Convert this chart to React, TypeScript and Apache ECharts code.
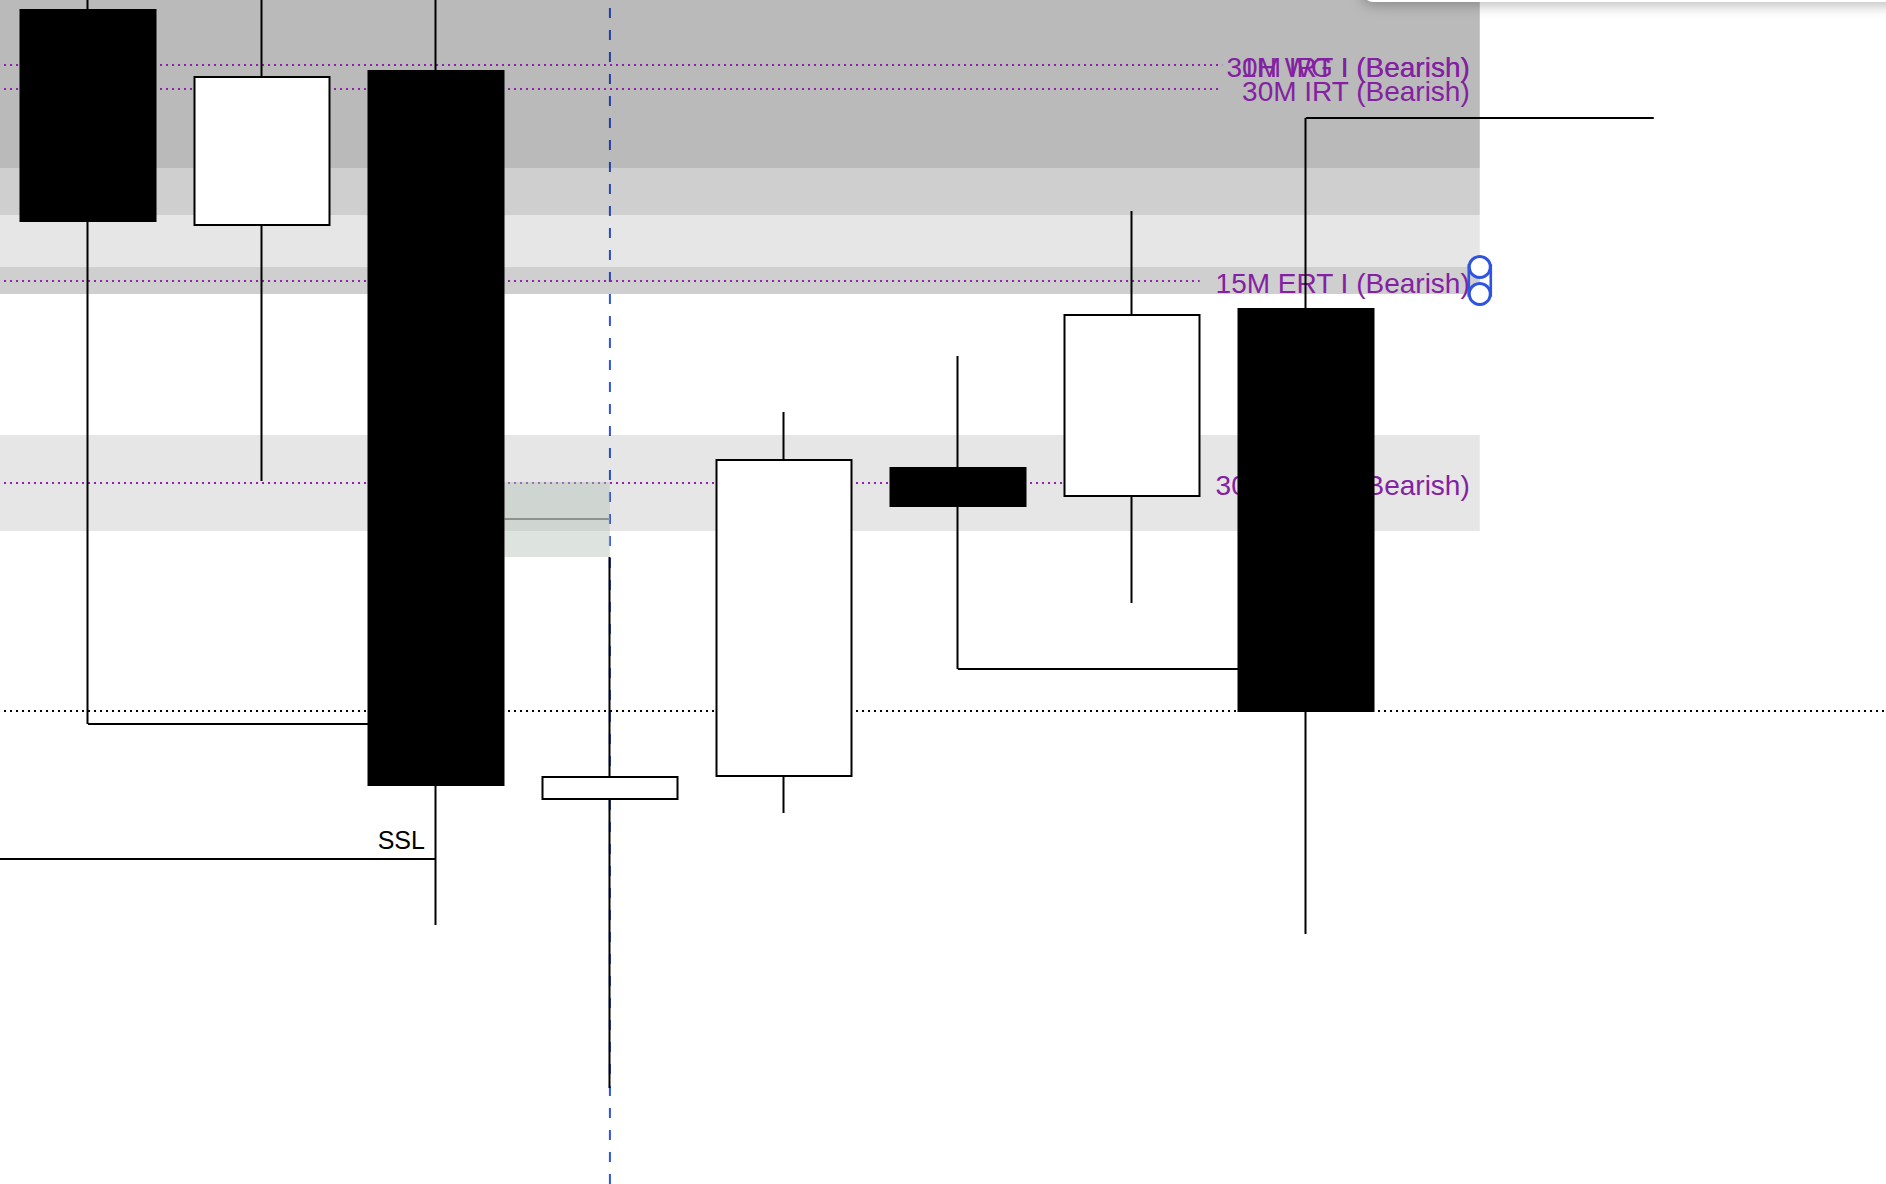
import React, { useEffect, useRef } from "react";
import * as echarts from "echarts";

// ---- Candles (x = bar index) ----
const candleIndex = [0, 1, 2, 3, 4, 5, 6, 7];
const opens = [21247.5, 21193.75, 21232.25, 21050.25, 21056, 21133, 21126, 21172.75];
const closes = [21194.75, 21230.75, 21053.75, 21055.75, 21135, 21123.5, 21171.25, 21072.25];
const lows = [21069, 21129.75, 21018.75, 20978, 21046.75, 21082.75, 21099.25, 21016.5];
const highs = [21262, 21258, 21265, 21110.75, 21147, 21161, 21197.25, 21220.5];

// ---- Dotted purple levels ----
const levelLabels = [
  "30M IRT I (Bearish)",
  "1H WG I (Bearish)",
  "30M IRT (Bearish)",
  "15M ERT I (Bearish)",
  "30M ERT I (Bearish)",
];
const levelPrices = [21233.75, 21233.75, 21227.75, 21179.75, 21129.25];
const levelStarts = [-1, -1, -1, -1, -1];
const levelEnds = [6.42, 6.52, 6.5, 6.39, 6.39];
const levelLabelX = 8;

// ---- Grey zones ----
const zoneStarts = [-1, -1, -1, -1, -1];
const zoneEnds = [8, 8, 8, 8, 8];
const zoneTops = [21290, 21290, 21290, 21183.25, 21141.25];
const zoneBottoms = [21176.5, 21196.25, 21208, 21176.5, 21117.25];

// ---- Selection handles of the 15M zone ----
const handleX = 8;
const handlePrices = [21183.25, 21176.5];

// ---- Gap box with its mid line ----
const gapStarts = [2.394];
const gapEnds = [3];
const gapTops = [21129.5];
const gapBottoms = [21110.75];
const gapMids = [21120.25];

// ---- Solid liquidity lines ----
const liqStarts = [0, 5, 7, -1];
const liqEnds = [2, 7, 9, 2];
const liqPrices = [21069, 21082.75, 21220.5, 21035.25];
const sslLabel = "SSL";
const sslIndex = 3;

// ---- Dotted close line and cursor ----
const closeLinePrice = 21072.25;
const cursorX = 3;

const Y_MIN = 20954;
const Y_MAX = 21250;
const X_MIN = -0.5058;
const X_MAX = 10.335;

const PURPLE = "#8f22ab";
const PURPLE_TEXT = "#8421a2";
const BLUE = "#2f55e0";
const FONT = "'Liberation Sans', Arial, sans-serif";

export default function App() {
  const ref = useRef<HTMLDivElement>(null);

  useEffect(() => {
    if (!ref.current) return;
    const chart = echarts.init(ref.current, null, { renderer: "svg" });

    const rectRender = (fillColor: string) => (params: any, api: any) => {
      const p0 = api.coord([api.value(0), api.value(2)]);
      const p1 = api.coord([api.value(1), api.value(3)]);
      return {
        type: "rect",
        shape: { x: p0[0], y: p0[1], width: p1[0] - p0[0], height: p1[1] - p0[1] },
        style: { fill: fillColor },
      };
    };

    const series: any[] = [];

    // cursor
    series.push({
      type: "line",
      z: 1,
      silent: true,
      symbol: "none",
      data: [
        [cursorX, Y_MIN],
        [cursorX, Y_MAX],
      ],
      lineStyle: { color: BLUE, width: 2, type: [10, 12] },
    });

    // zones
    series.push({
      type: "custom",
      z: 2,
      silent: true,
      encode: { x: [0, 1], y: [2, 3] },
      data: zoneStarts.map((s, i) => [s, zoneEnds[i], zoneTops[i], zoneBottoms[i]]),
      renderItem: rectRender("rgba(0,0,0,0.098)"),
    });

    // level lines
    levelPrices.forEach((p, i) => {
      series.push({
        type: "line",
        z: 3,
        silent: true,
        symbol: "none",
        data: [
          [levelStarts[i], p],
          [levelEnds[i], p],
        ],
        lineStyle: { color: PURPLE, width: 2, type: [2, 4] },
      });
    });

    // level labels
    series.push({
      type: "scatter",
      z: 3,
      silent: true,
      symbolSize: 0,
      itemStyle: { color: "rgba(0,0,0,0)", opacity: 1 },
      data: levelPrices.map((p, i) => ({ value: [levelLabelX, p], name: levelLabels[i] })),
      label: {
        show: true,
        position: "left",
        distance: 10,
        offset: [0, 2],
        formatter: (d: any) => d.name,
        fontFamily: FONT,
        fontSize: 28,
        color: PURPLE_TEXT,
        opacity: 1,
      },
    });

    // gap box
    series.push({
      type: "custom",
      z: 4,
      silent: true,
      encode: { x: [0, 1], y: [2, 3] },
      data: gapStarts.map((s, i) => [s, gapEnds[i], gapTops[i], gapBottoms[i]]),
      renderItem: rectRender("rgba(180,192,182,0.45)"),
    });
    gapMids.forEach((m, i) => {
      series.push({
        type: "line",
        z: 4,
        silent: true,
        symbol: "none",
        data: [
          [gapStarts[i], m],
          [gapEnds[i], m],
        ],
        lineStyle: { color: "#8e928f", width: 2 },
      });
    });

    // liquidity lines
    liqPrices.forEach((p, i) => {
      series.push({
        type: "line",
        z: 5,
        silent: true,
        symbol: "none",
        data: [
          [liqStarts[i], p],
          [liqEnds[i], p],
        ],
        lineStyle: { color: "#000", width: 2 },
      });
    });

    // SSL label
    series.push({
      type: "scatter",
      z: 5,
      silent: true,
      symbolSize: 0,
      itemStyle: { color: "rgba(0,0,0,0)", opacity: 1 },
      data: [{ value: [liqEnds[sslIndex], liqPrices[sslIndex]], name: sslLabel }],
      label: {
        show: true,
        position: [-11, -7],
        align: "right",
        verticalAlign: "bottom",
        formatter: (d: any) => d.name,
        fontFamily: FONT,
        fontSize: 25,
        color: "#000",
        opacity: 1,
      },
    });

    // close dotted line
    series.push({
      type: "line",
      z: 5,
      silent: true,
      symbol: "none",
      data: [
        [-1, closeLinePrice],
        [11, closeLinePrice],
      ],
      lineStyle: { color: "#000", width: 2, type: [2, 4] },
    });

    // candles
    series.push({
      type: "candlestick",
      z: 6,
      silent: true,
      barWidth: 135,
      encode: { x: 0, y: [1, 2, 3, 4] },
      data: candleIndex.map((x, i) => [x, opens[i], closes[i], lows[i], highs[i]]),
      itemStyle: {
        color: "#ffffff",
        color0: "#000000",
        borderColor: "#000000",
        borderColor0: "#000000",
        borderWidth: 2,
      },
    });

    // handles
    series.push({
      type: "scatter",
      z: 7,
      silent: true,
      symbol: "rect",
      symbolSize: [22, 29],
      data: [[handleX, (handlePrices[0] + handlePrices[1]) / 2]],
      itemStyle: { color: "rgba(255,255,255,0)", borderColor: BLUE, borderWidth: 3, opacity: 1 },
    });
    series.push({
      type: "scatter",
      z: 8,
      silent: true,
      symbol: "circle",
      symbolSize: 21,
      data: handlePrices.map((p) => [handleX, p]),
      itemStyle: { color: "#ffffff", borderColor: BLUE, borderWidth: 3, opacity: 1 },
    });

    chart.setOption({
      animation: false,
      backgroundColor: "#ffffff",
      grid: { left: 0, right: 0, top: 0, bottom: 0 },
      xAxis: {
        type: "value",
        min: X_MIN,
        max: X_MAX,
        show: false,
        splitLine: { show: false },
      },
      yAxis: {
        type: "value",
        min: Y_MIN,
        max: Y_MAX,
        show: false,
        splitLine: { show: false },
      },
      graphic: [
        {
          type: "rect",
          z: 100,
          shape: { x: 1362, y: -40, width: 620, height: 42, r: 12 },
          style: {
            fill: "#ffffff",
            shadowBlur: 14,
            shadowColor: "rgba(0,0,0,0.28)",
            shadowOffsetY: 3,
          },
        },
      ],
      series,
    });

    return () => chart.dispose();
  }, []);

  return (
    <div
      ref={ref}
      style={{ position: "fixed", left: 0, top: 0, width: 1886, height: 1184, background: "#fff" }}
    />
  );
}
